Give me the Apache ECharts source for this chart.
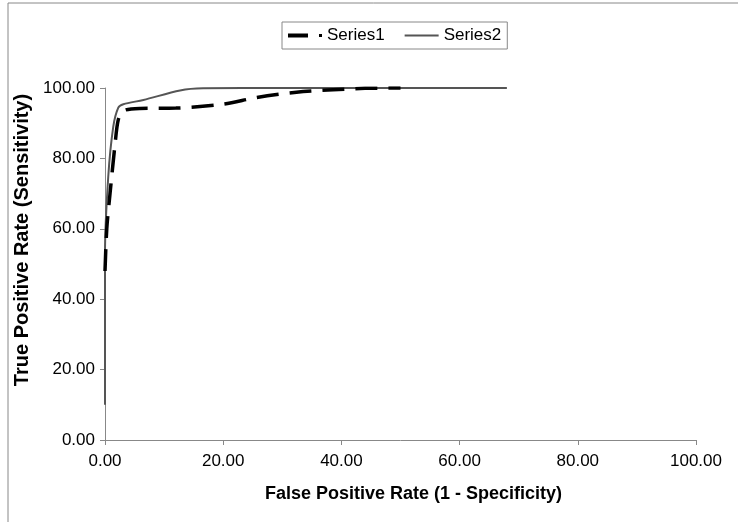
<!DOCTYPE html>
<html>
<head>
<meta charset="utf-8">
<script src="https://cdn.jsdelivr.net/npm/echarts@6/dist/echarts.min.js"></script>
<style>
  html, body { margin: 0; padding: 0; background: #fff; }
  #chart { width: 738px; height: 522px; }
</style>
</head>
<body>
<div id="chart"></div>
<script>
// ROC curves: [false positive rate, true positive rate]
const series1Points = [
  [0, 48], [0.3, 60], [0.85, 70], [1.7, 84], [2.25, 91], [3.1, 93.5],
  [5.9, 94.2], [12, 94.3], [20, 95.4], [25.7, 97.3], [32.4, 98.8],
  [38.6, 99.5], [44, 99.9], [50, 100]
];
const series2Points = [
  [0, 10], [0, 53], [0.55, 74.8], [1.4, 89], [2.25, 94.4], [3.1, 95.4],
  [6.5, 96.6], [12.7, 99.3], [16.6, 99.9], [30, 100], [50, 100], [68, 100]
];
const seriesNames = ['Series1', 'Series2'];
const xTicks = { min: 0, max: 100, interval: 20 };
const yTicks = { min: 0, max: 100, interval: 20 };

const chart = echarts.init(document.getElementById('chart'), null, { renderer: 'canvas' });

const font = 'Liberation Sans, Arial, sans-serif';
const labelFont = { fontFamily: font, fontSize: 17, color: '#000' };

// legend keys drawn like the original: long dash + dot, thin solid line
const legendIcons = [
  'path://M0,0H20V4H0Z M31,0.5H34V3.5H31Z',
  'path://M0,0H34V2H0Z'
];

chart.setOption({
  animation: false,
  backgroundColor: '#fff',
  graphic: [{
    type: 'rect',
    shape: { x: 8, y: 3, width: 760, height: 560 },
    style: { fill: 'none', stroke: '#888', lineWidth: 1 },
    silent: true
  }],
  legend: {
    top: 22,
    left: 282,
    data: seriesNames.map((n, i) => ({ name: n, icon: legendIcons[i] })),
    symbolKeepAspect: true,
    borderColor: '#888',
    borderWidth: 1,
    borderRadius: 0,
    padding: [5, 6, 5, 6],
    itemWidth: 34,
    itemHeight: 14,
    itemGap: 20,
    itemStyle: { borderWidth: 0 },
    textStyle: labelFont
  },
  grid: { left: 105, right: 42, top: 88, bottom: 82 },
  xAxis: {
    type: 'value',
    min: xTicks.min, max: xTicks.max, interval: xTicks.interval,
    name: 'False Positive Rate (1 - Specificity)',
    nameLocation: 'middle',
    nameGap: 45,
    nameTextStyle: { fontFamily: font, fontSize: 18, fontWeight: 'bold', color: '#000', padding: [0, 0, 0, 26] },
    axisLine: { show: true, lineStyle: { color: '#888', width: 1 } },
    axisTick: { show: true, inside: false, length: 5, lineStyle: { color: '#888' } },
    axisLabel: Object.assign({}, labelFont, { margin: 13, formatter: v => v.toFixed(2) }),
    splitLine: { show: false }
  },
  yAxis: {
    type: 'value',
    min: yTicks.min, max: yTicks.max, interval: yTicks.interval,
    name: 'True Positive Rate (Sensitivity)',
    nameLocation: 'middle',
    nameGap: 73,
    nameTextStyle: { fontFamily: font, fontSize: 20, fontWeight: 'bold', color: '#000', padding: [0, 0, 0, 48] },
    axisLine: { show: true, lineStyle: { color: '#888', width: 1 } },
    axisTick: { show: true, inside: false, length: 5, lineStyle: { color: '#888' } },
    axisLabel: Object.assign({}, labelFont, { margin: 10, formatter: v => v.toFixed(2) }),
    splitLine: { show: false }
  },
  series: [
    {
      name: seriesNames[0],
      type: 'line',
      data: series1Points,
      smooth: 0.3,
      showSymbol: false,
      symbol: 'none',
      z: 3,
      color: '#000',
      lineStyle: { color: '#000', width: 3.5, type: [22, 11] }
    },
    {
      name: seriesNames[1],
      type: 'line',
      data: series2Points,
      smooth: 0.3,
      showSymbol: false,
      symbol: 'none',
      z: 2,
      color: '#555',
      lineStyle: { color: '#555', width: 2 }
    }
  ]
});
</script>
</body>
</html>
